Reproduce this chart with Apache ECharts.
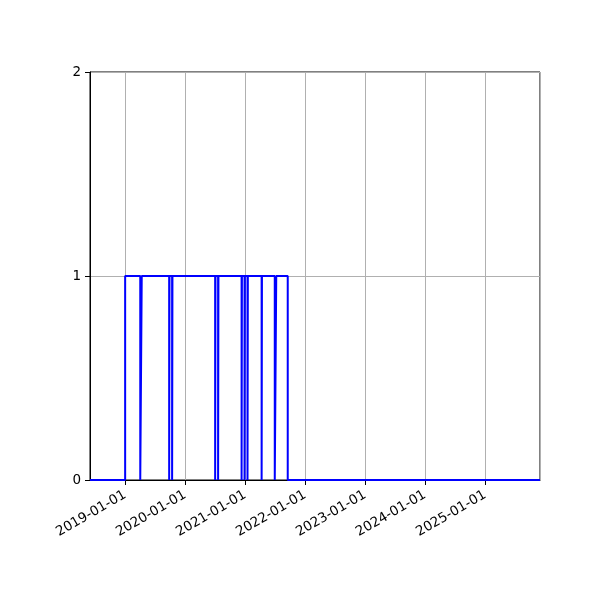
<!DOCTYPE html>
<html>
<head>
<meta charset="utf-8">
<script src="https://cdn.jsdelivr.net/npm/echarts@6/dist/echarts.min.js"></script>
<style>html,body{margin:0;padding:0;background:#fff}#c{width:600px;height:600px}</style>
</head>
<body>
<div id="c"></div>
<script>
// Step series: value holds from each date until the next date
const stepDates = [
  '2018-06-01','2019-01-01',
  '2019-04-03','2019-04-12',
  '2019-09-26','2019-09-28',
  '2019-10-14','2019-10-16',
  '2020-07-02','2020-07-04',
  '2020-07-20','2020-07-22',
  '2020-12-10','2020-12-12',
  '2020-12-28','2020-12-30',
  '2021-01-15','2021-01-17',
  '2021-04-11','2021-04-13',
  '2021-06-30','2021-07-09',
  '2021-09-17','2025-12-01'
];
const stepValues = [
  0,1,
  0,1,
  0,1,
  0,1,
  0,1,
  0,1,
  0,1,
  0,1,
  0,1,
  0,1,
  0,1,
  0,0
];
const xMin = '2018-06-01';
const xMax = '2025-12-01';
const yTicks = [0,1,2];

const data = stepDates.map((d,i)=>[d, stepValues[i]]);
const chart = echarts.init(document.getElementById('c'), null, {renderer:'canvas'});
const DAY = 864e5;
function fmt(v){
  const d = new Date(v);
  const p = n => String(n).padStart(2,'0');
  return d.getFullYear()+'-'+p(d.getMonth()+1)+'-'+p(d.getDate());
}
chart.setOption({
  animation:false,
  backgroundColor:'#fff',
  grid:{left:90,right:60,top:72,bottom:120,show:true,borderColor:'#000',borderWidth:1,backgroundColor:'transparent'},
  xAxis:{
    type:'time',
    min:xMin, max:xMax,
    splitNumber:8,
    minInterval:365*DAY,
    maxInterval:366*DAY,
    axisLine:{show:true,lineStyle:{color:'#000',width:1}},
    axisTick:{show:true,length:5,lineStyle:{color:'#000',width:1}},
    axisLabel:{
      formatter:fmt, rotate:30, margin:14, color:'#000',
      fontFamily:'DejaVu Sans', fontSize:13.5, fontWeight:'normal',
      showMinLabel:false, showMaxLabel:false, hideOverlap:false
    },
    splitLine:{show:true,lineStyle:{color:'#b0b0b0',width:1}},
    minorTick:{show:false}
  },
  yAxis:{
    type:'value', min:yTicks[0], max:yTicks[yTicks.length-1], interval:1,
    axisLine:{show:true,lineStyle:{color:'#000',width:1}},
    axisTick:{show:true,length:5,lineStyle:{color:'#000',width:1}},
    axisLabel:{color:'#000',fontFamily:'DejaVu Sans',fontSize:13.5,margin:9},
    splitLine:{show:true,lineStyle:{color:'#b0b0b0',width:1}}
  },
  series:[{
    type:'line',
    step:'end',
    data:data,
    showSymbol:false,
    symbol:'none',
    lineStyle:{color:'#0000ff',width:2},
    itemStyle:{color:'#0000ff'},
    clip:true
  }]
});
</script>
</body>
</html>
